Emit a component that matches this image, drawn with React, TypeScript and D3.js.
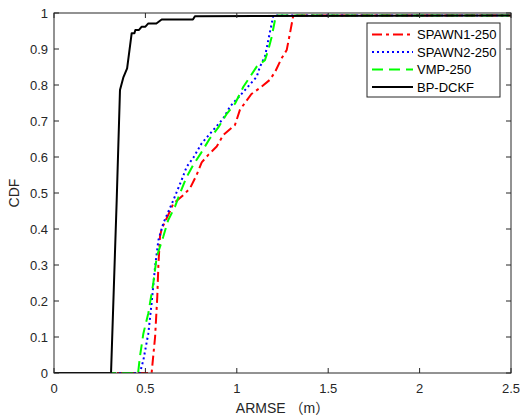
import React, { useRef, useEffect } from 'react';
import * as d3 from 'd3';

const X_TICKS = [0, 0.5, 1, 1.5, 2, 2.5];
const Y_TICKS = [0, 0.1, 0.2, 0.3, 0.4, 0.5, 0.6, 0.7, 0.8, 0.9, 1];

// [ARMSE, CDF] pairs
const SPAWN1 = [
  [0, 0], [0.534, 0], [0.553, 0.1], [0.565, 0.212], [0.571, 0.3], [0.58, 0.38], [0.589, 0.4],
  [0.635, 0.45], [0.653, 0.471], [0.707, 0.494], [0.744, 0.513], [0.78, 0.55], [0.808, 0.585],
  [0.844, 0.606], [0.89, 0.629], [0.926, 0.661], [0.99, 0.689], [1.017, 0.731], [1.08, 0.775],
  [1.127, 0.792], [1.18, 0.814], [1.21, 0.837], [1.245, 0.874], [1.273, 0.897], [1.291, 0.944],
  [1.309, 0.993], [2.5, 0.993]
];
const SPAWN2 = [
  [0, 0], [0.47, 0], [0.489, 0.036], [0.516, 0.11], [0.534, 0.194], [0.553, 0.295],
  [0.571, 0.369], [0.598, 0.416], [0.653, 0.48], [0.698, 0.536], [0.726, 0.573], [0.762, 0.598],
  [0.808, 0.638], [0.871, 0.675], [0.926, 0.707], [0.963, 0.74], [1.036, 0.781], [1.109, 0.823],
  [1.127, 0.851], [1.154, 0.879], [1.18, 0.944], [1.2, 0.993], [2.5, 0.993]
];
const VMP = [
  [0, 0], [0.46, 0], [0.47, 0.045], [0.489, 0.11], [0.516, 0.166], [0.543, 0.249],
  [0.562, 0.323], [0.598, 0.379], [0.625, 0.425], [0.662, 0.462], [0.689, 0.499],
  [0.726, 0.545], [0.762, 0.578], [0.803, 0.61], [0.853, 0.652], [0.899, 0.682],
  [0.945, 0.72], [0.99, 0.748], [1.036, 0.795], [1.109, 0.851], [1.154, 0.869],
  [1.172, 0.897], [1.191, 0.934], [1.209, 0.981], [1.215, 0.993], [2.5, 0.993]
];
const BPDCKF = [
  [0, 0], [0.312, 0], [0.343, 0.48], [0.361, 0.786], [0.38, 0.822], [0.4, 0.846],
  [0.425, 0.944], [0.44, 0.944], [0.445, 0.953], [0.465, 0.953], [0.48, 0.962], [0.5, 0.962],
  [0.516, 0.971], [0.56, 0.971], [0.589, 0.982], [0.76, 0.982], [0.771, 0.991], [2.5, 0.993]
];

const SERIES = [
  { name: 'SPAWN1-250', data: SPAWN1, color: '#ff0000', dash: '10,4,3,4' },
  { name: 'SPAWN2-250', data: SPAWN2, color: '#0000ff', dash: '2,3' },
  { name: 'VMP-250', data: VMP, color: '#00ff00', dash: '11,6' },
  { name: 'BP-DCKF', data: BPDCKF, color: '#000000', dash: null },
];

const W = 521;
const H = 419;
const M = { left: 54, right: 10, top: 13, bottom: 46 };
const FONT = '"Liberation Sans", Arial, "Noto Sans CJK SC", sans-serif';
const AXIS = '#262626';

export default function App() {
  const svgRef = useRef<SVGSVGElement>(null);

  useEffect(() => {
    const svg = d3.select(svgRef.current);
    svg.selectAll('*').remove();

    const x = d3.scaleLinear().domain([0, 2.5]).range([M.left, W - M.right]);
    const y = d3.scaleLinear().domain([0, 1]).range([H - M.bottom, M.top]);

    svg.append('rect').attr('width', W).attr('height', H).attr('fill', 'white');

    const x0 = x(0), x1 = x(2.5), y0 = y(0), y1 = y(1);

    // Curves, clipped to axes box
    svg.append('clipPath').attr('id', 'plot-clip')
      .append('rect').attr('x', x0).attr('y', y1).attr('width', x1 - x0).attr('height', y0 - y1);

    const line = d3.line<number[]>().x(d => x(d[0])).y(d => y(d[1]));
    const g = svg.append('g').attr('clip-path', 'url(#plot-clip)');
    SERIES.forEach(s => {
      g.append('path')
        .attr('d', line(s.data))
        .attr('fill', 'none')
        .attr('stroke', s.color)
        .attr('stroke-width', 2)
        .attr('stroke-dasharray', s.dash)
        .attr('stroke-linejoin', 'round');
    });

    // Box
    svg.append('rect')
      .attr('x', x0).attr('y', y1).attr('width', x1 - x0).attr('height', y0 - y1)
      .attr('fill', 'none').attr('stroke', AXIS).attr('stroke-width', 1);

    const tl = 5;
    const ticks = svg.append('g').attr('stroke', AXIS).attr('stroke-width', 1);
    X_TICKS.forEach(t => {
      ticks.append('line').attr('x1', x(t)).attr('x2', x(t)).attr('y1', y0).attr('y2', y0 - tl);
      ticks.append('line').attr('x1', x(t)).attr('x2', x(t)).attr('y1', y1).attr('y2', y1 + tl);
    });
    Y_TICKS.forEach(t => {
      ticks.append('line').attr('x1', x0).attr('x2', x0 + tl).attr('y1', y(t)).attr('y2', y(t));
      ticks.append('line').attr('x1', x1).attr('x2', x1 - tl).attr('y1', y(t)).attr('y2', y(t));
    });

    const labels = svg.append('g').attr('font-family', FONT).attr('font-size', 13).attr('fill', AXIS);
    X_TICKS.forEach(t => {
      labels.append('text').attr('x', x(t)).attr('y', y0 + 20)
        .attr('text-anchor', 'middle').text(String(t));
    });
    Y_TICKS.forEach(t => {
      labels.append('text').attr('x', x0 - 6).attr('y', y(t)).attr('dy', '0.35em')
        .attr('text-anchor', 'end').text(String(t));
    });

    labels.append('text').attr('x', (x0 + x1) / 2).attr('y', H - 6)
      .attr('text-anchor', 'middle').attr('font-size', 14).text('ARMSE （m）');
    labels.append('text')
      .attr('transform', `translate(19,${(y0 + y1) / 2}) rotate(-90)`)
      .attr('text-anchor', 'middle').attr('font-size', 14).text('CDF');

    // Legend
    const lg = svg.append('g').attr('transform', 'translate(367,23)');
    lg.append('rect').attr('width', 133).attr('height', 74)
      .attr('fill', 'white').attr('stroke', AXIS).attr('stroke-width', 1);
    SERIES.forEach((s, i) => {
      const ly = 11.5 + i * 17.5;
      lg.append('line').attr('x1', 5).attr('x2', 46).attr('y1', ly).attr('y2', ly)
        .attr('stroke', s.color).attr('stroke-width', 2).attr('stroke-dasharray', s.dash);
      lg.append('text').attr('x', 50).attr('y', ly).attr('dy', '0.35em')
        .attr('font-family', FONT).attr('font-size', 13).attr('fill', '#000')
        .text(s.name);
    });
  }, []);

  return (
    <svg ref={svgRef} width={W} height={H} style={{ position: 'absolute', left: 0, top: 0 }} />
  );
}
